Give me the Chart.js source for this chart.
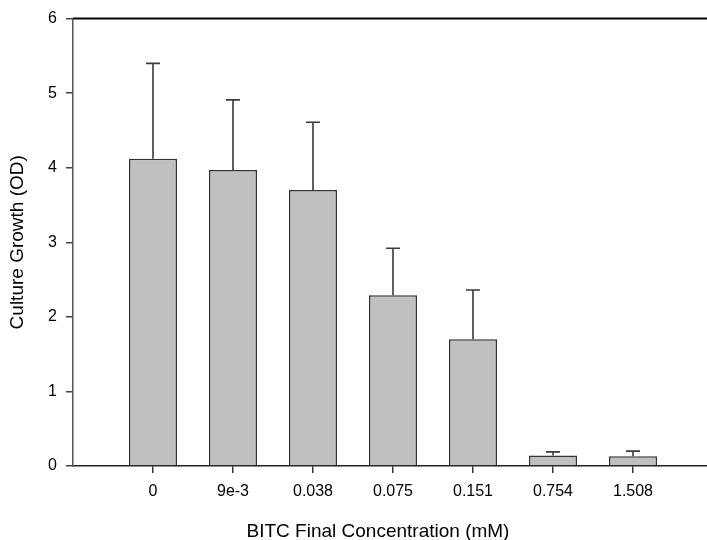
<!DOCTYPE html>
<html>
<head>
<meta charset="utf-8">
<script src="https://cdn.jsdelivr.net/npm/chart.js@4.4.1/dist/chart.umd.min.js"></script>
<style>
  html, body { margin: 0; padding: 0; background: #fff; overflow: hidden; }
  #wrap { width: 707px; height: 540px; }
</style>
</head>
<body>
<div id="wrap"><canvas id="c" width="707" height="540"></canvas></div>
<script>
// BITC concentrations (mM) tested, as printed on the axis
const concentrations = ['0', '9e-3', '0.038', '0.075', '0.151', '0.754', '1.508'];
// Mean culture growth (OD) at each concentration
const growthOD = [4.12, 3.97, 3.70, 2.29, 1.70, 0.14, 0.13];
// Upper error (standard deviation) for each mean
const growthErr = [1.28, 0.94, 0.91, 0.63, 0.66, 0.05, 0.07];
// Y axis tick values
const yTicks = [0, 1, 2, 3, 4, 5, 6];

const X_TITLE = 'BITC Final Concentration (mM)';
const Y_TITLE = 'Culture Growth (OD)';
const FONT = "'Liberation Sans', Arial, sans-serif";

// Upper-only error bars with a short cap
const errorBars = {
  id: 'errorBars',
  afterDatasetsDraw(chart) {
    const meta = chart.getDatasetMeta(0);
    const yScale = chart.scales.y;
    const ctx = chart.ctx;
    ctx.save();
    ctx.strokeStyle = '#3a3a3a';
    ctx.lineWidth = 1.6;
    meta.data.forEach((bar, i) => {
      const top = yScale.getPixelForValue(growthOD[i] + growthErr[i]);
      ctx.beginPath();
      ctx.moveTo(bar.x, bar.y);
      ctx.lineTo(bar.x, top);
      ctx.moveTo(bar.x - 7, top);
      ctx.lineTo(bar.x + 7, top);
      ctx.stroke();
    });
    ctx.restore();
  }
};

// Frame line along the top of the plot area, plus the x axis title
// (the title sits a little left of the plot-area centre)
const frameAndTitle = {
  id: 'frameAndTitle',
  afterDraw(chart) {
    const { ctx, chartArea } = chart;
    ctx.save();
    ctx.strokeStyle = '#000';
    ctx.lineWidth = 2;
    ctx.beginPath();
    ctx.moveTo(chartArea.left, chartArea.top);
    ctx.lineTo(chartArea.right, chartArea.top);
    ctx.stroke();

    ctx.fillStyle = '#000';
    ctx.font = '19px ' + FONT;
    ctx.textAlign = 'center';
    ctx.textBaseline = 'alphabetic';
    const cx = (chartArea.left + chartArea.right) / 2 - 12;
    ctx.fillText(X_TITLE, cx, chart.height - 3.5);
    ctx.restore();
  }
};

new Chart(document.getElementById('c'), {
  type: 'bar',
  data: {
    datasets: [{
      data: growthOD.map((v, i) => ({ x: i, y: v })),
      backgroundColor: '#c0c0c0',
      borderColor: '#333',
      borderWidth: 1.5,
      barPercentage: 0.6,
      categoryPercentage: 1.0
    }]
  },
  options: {
    responsive: false,
    animation: false,
    devicePixelRatio: 1,
    layout: { padding: { top: 16, right: 0, left: 0, bottom: 0 } },
    plugins: { legend: { display: false }, tooltip: { enabled: false } },
    scales: {
      x: {
        type: 'linear',
        min: -1,
        max: 6.925,
        offset: false,
        afterBuildTicks: s => { s.ticks = concentrations.map((_, i) => ({ value: i })); },
        afterFit: s => { s.height = 74; },
        ticks: {
          callback: v => concentrations[v],
          font: { family: FONT, size: 16 },
          color: '#000',
          padding: 9,
          maxRotation: 0,
          autoSkip: false
        },
        grid: { offset: false, drawOnChartArea: false, drawTicks: true, tickLength: 7, color: '#333', lineWidth: 1.5 },
        border: { display: true, color: '#222', width: 1.5 },
        title: { display: false }
      },
      y: {
        min: 0,
        max: 6,
        afterBuildTicks: s => { s.ticks = yTicks.map(v => ({ value: v })); },
        afterFit: s => { s.width = 73; },
        ticks: {
          font: { family: FONT, size: 16 },
          color: '#000',
          padding: 9
        },
        grid: { drawOnChartArea: false, drawTicks: true, tickLength: 7, color: '#444', lineWidth: 1.5 },
        border: { display: true, color: '#555', width: 1.5 },
        title: {
          display: true,
          text: Y_TITLE,
          font: { family: FONT, size: 19 },
          color: '#000',
          padding: { top: 6, bottom: 0 }
        }
      }
    }
  },
  plugins: [errorBars, frameAndTitle]
});
</script>
</body>
</html>
